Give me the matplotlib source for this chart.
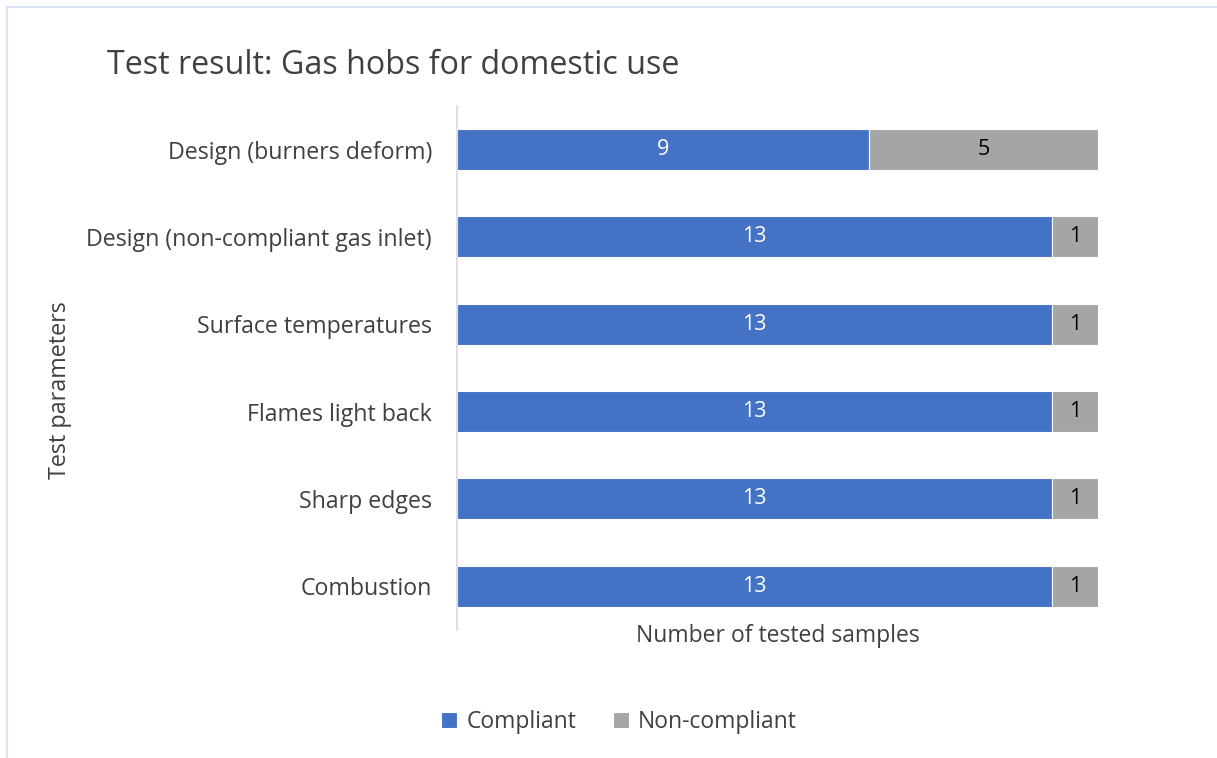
import matplotlib.pyplot as plt
from matplotlib.patches import Rectangle

plt.rcParams['font.family'] = ['Open Sans', 'DejaVu Sans']

# data (top to bottom in the chart)
parameters = [
    "Design (burners deform)",
    "Design (non-compliant gas inlet)",
    "Surface temperatures",
    "Flames light back",
    "Sharp edges",
    "Combustion",
]
compliant = [9, 13, 13, 13, 13, 13]
non_compliant = [5, 1, 1, 1, 1, 1]

BLUE = '#4472C4'
GREY = '#A5A5A5'
TEXT = '#404040'

fig = plt.figure(figsize=(12.17, 7.58), dpi=100)
ax = fig.add_axes([0.3755, 0.1689, 0.5267, 0.6913])

# reverse so the first category is at the top
cats = parameters[::-1]
comp = compliant[::-1]
nonc = non_compliant[::-1]
ypos = range(len(cats))

b1 = ax.barh(ypos, comp, height=0.47, color=BLUE, edgecolor='white', lw=0.8,
             label='Compliant')
b2 = ax.barh(ypos, nonc, left=comp, height=0.47, color=GREY, edgecolor='white',
             lw=0.8, label='Non-compliant')
for t in ax.bar_label(b1, label_type='center', color='white', fontsize=15.5):
    t.set_va('center')
for t in ax.bar_label(b2, label_type='center', color='black', fontsize=15.5):
    t.set_va('center')

ax.set_xlim(0, 14)
ax.set_ylim(-0.5, len(cats) - 0.5)
ax.set_yticks(list(ypos))
ax.set_yticklabels(cats, fontsize=16.7, color=TEXT)
ax.tick_params(axis='y', length=0, pad=18)
ax.set_xticks([])
for s in ['top', 'right', 'bottom']:
    ax.spines[s].set_visible(False)
ax.spines['left'].set_color('#D9D9D9')
ax.spines['left'].set_linewidth(1.2)

ax.set_xlabel("Number of tested samples", fontsize=16.5, color=TEXT, labelpad=-4)
fig.text(60 / 1217, 1 - 390 / 758, "Test parameters", rotation=90,
         ha='center', va='center', fontsize=16.8, color=TEXT)

fig.text(107 / 1217, 1 - 66 / 758, "Test result: Gas hobs for domestic use",
         ha='left', va='center', fontsize=23.2, color=TEXT)

fig.legend(handles=[b1, b2], loc='center', bbox_to_anchor=(619 / 1217, 1 - 722 / 758),
           ncol=2, frameon=False, fontsize=16.5, handlelength=0.7, handleheight=0.7,
           handletextpad=0.4, columnspacing=1.6, labelcolor=TEXT)

# light chart border
fig.patches.append(Rectangle((7 / 1217, -0.05), 1.1, 1 - 7 / 758 + 0.05,
                             transform=fig.transFigure, fill=False,
                             edgecolor='#DAE3F3', lw=1.5))

fig.savefig('out.png', dpi=100)
